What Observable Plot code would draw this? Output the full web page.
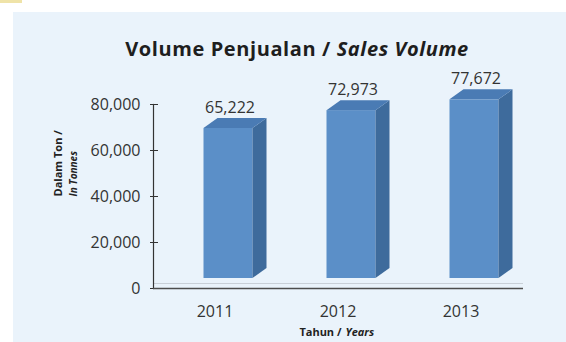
<!DOCTYPE html>
<html>
<head>
<meta charset="utf-8">
<script src="https://cdn.jsdelivr.net/npm/d3@7"></script>
<script src="https://cdn.jsdelivr.net/npm/@observablehq/plot@0.6"></script>
<style>
  html, body { margin: 0; padding: 0; background: #ffffff; }
  body { width: 566px; height: 342px; overflow: hidden; position: relative; font-family: "Open Sans", sans-serif; }
  #panel { position: absolute; left: 13px; top: 12px; right: 0; bottom: 0; background: #eaf3fb; }
  #corner { position: absolute; left: 0; top: 0; width: 22px; height: 3px; background: #efe3a8; }
  #wrap { position: relative; }
  #title { height: 62px; box-sizing: border-box; padding-top: 39px; width: 594px; text-align: center;
           font-size: 20px; line-height: 20px; letter-spacing: 0.6px; font-weight: 700; color: #1e1e1e; }
  #title i { font-style: italic; }
</style>
</head>
<body>
<div id="corner"></div>
<div id="panel"></div>
<div id="wrap">
  <div id="title">Volume Penjualan / <i>Sales Volume</i></div>
  <div id="chart"></div>
</div>
<script>
const years = ["2011", "2012", "2013"];
const volumes = [65222, 72973, 77672];
const yTicks = [0, 20000, 40000, 60000, 80000];

const data = years.map((year, i) => ({year, value: volumes[i]}));

const FRONT = "#5b8fc8", SIDE = "#3e6b9c", TOP = "#4a7bb4";
const OX = 13.5, OY = -10;   // front face offset from the floor
const DX = 14, DY = -10;     // depth of the 3D bars

const bars3d = Plot.barY(data, {
  x: "year", y: "value",
  render(index, scales, values, dimensions, context) {
    const {x, y} = scales;
    const g = d3.create("svg:g");
    for (const i of index) {
      const d = data[i];
      const x1 = x(d.year) + OX, x2 = x1 + x.bandwidth();
      const yv = y(d.value) + OY, y0 = y(0) + OY;
      g.append("rect").attr("x", x1).attr("y", yv).attr("width", x2 - x1).attr("height", y0 - yv).attr("fill", FRONT);
      g.append("polygon").attr("points", [[x2, y0], [x2, yv], [x2 + DX, yv + DY], [x2 + DX, y0 + DY]].join(" ")).attr("fill", SIDE);
      g.append("polygon").attr("points", [[x1, yv], [x2, yv], [x2 + DX, yv + DY], [x1 + DX, yv + DY]].join(" ")).attr("fill", TOP);
    }
    return g.node();
  }
});

const chart = Plot.plot({
  width: 566,
  height: 280,
  marginLeft: 153,
  marginRight: 43,
  marginTop: 42,
  marginBottom: 54,
  style: {background: "transparent", fontFamily: "Open Sans, sans-serif", color: "#333"},
  x: {domain: years, paddingInner: 0.6, paddingOuter: 0.3, label: null},
  y: {domain: [0, 80000], label: null},
  marks: [
    Plot.ruleY([0], {stroke: "#c9d0d8", strokeWidth: 1, dy: -5}),
    bars3d,
    Plot.axisY({ticks: yTicks, tickSize: 0, tickPadding: 13, tickFormat: d3.format(","), fontSize: 16, fill: "#333", label: null}),
    Plot.axisY({ticks: yTicks, tickSize: 8, dx: 5, stroke: "#333", fill: "none", label: null}),
    Plot.axisX({tickSize: 0, tickPadding: 17, fontSize: 16, fill: "#333", label: null}),
    Plot.frame({anchor: "left", stroke: "#333", strokeWidth: 1.2}),
    Plot.ruleY([0], {stroke: "#4d4d4d", strokeWidth: 1.5}),
    Plot.text(data, {x: "year", y: "value", text: d => d3.format(",")(d.value), dx: 15, dy: -31, fontSize: 16, fill: "#333"}),
    Plot.text(["Dalam Ton /"], {frameAnchor: "left", text: d => d, rotate: -90, dx: -95, fontSize: 11, fontWeight: "bold", fill: "#222"}),
    Plot.text(["In Tonnes"], {frameAnchor: "left", text: d => d, rotate: -90, dx: -80, fontSize: 10, fontWeight: "bold", fontStyle: "italic", fill: "#222"}),
    Plot.text(["Tahun /"], {frameAnchor: "bottom", text: d => d, textAnchor: "end", dx: 3, dy: 47, fontSize: 11, fontWeight: "bold", fill: "#222"}),
    Plot.text(["Years"], {frameAnchor: "bottom", text: d => d, textAnchor: "start", dx: 7, dy: 47, fontSize: 11, fontWeight: "bold", fontStyle: "italic", fill: "#222"})
  ]
});
document.getElementById("chart").append(chart);
</script>
</body>
</html>
